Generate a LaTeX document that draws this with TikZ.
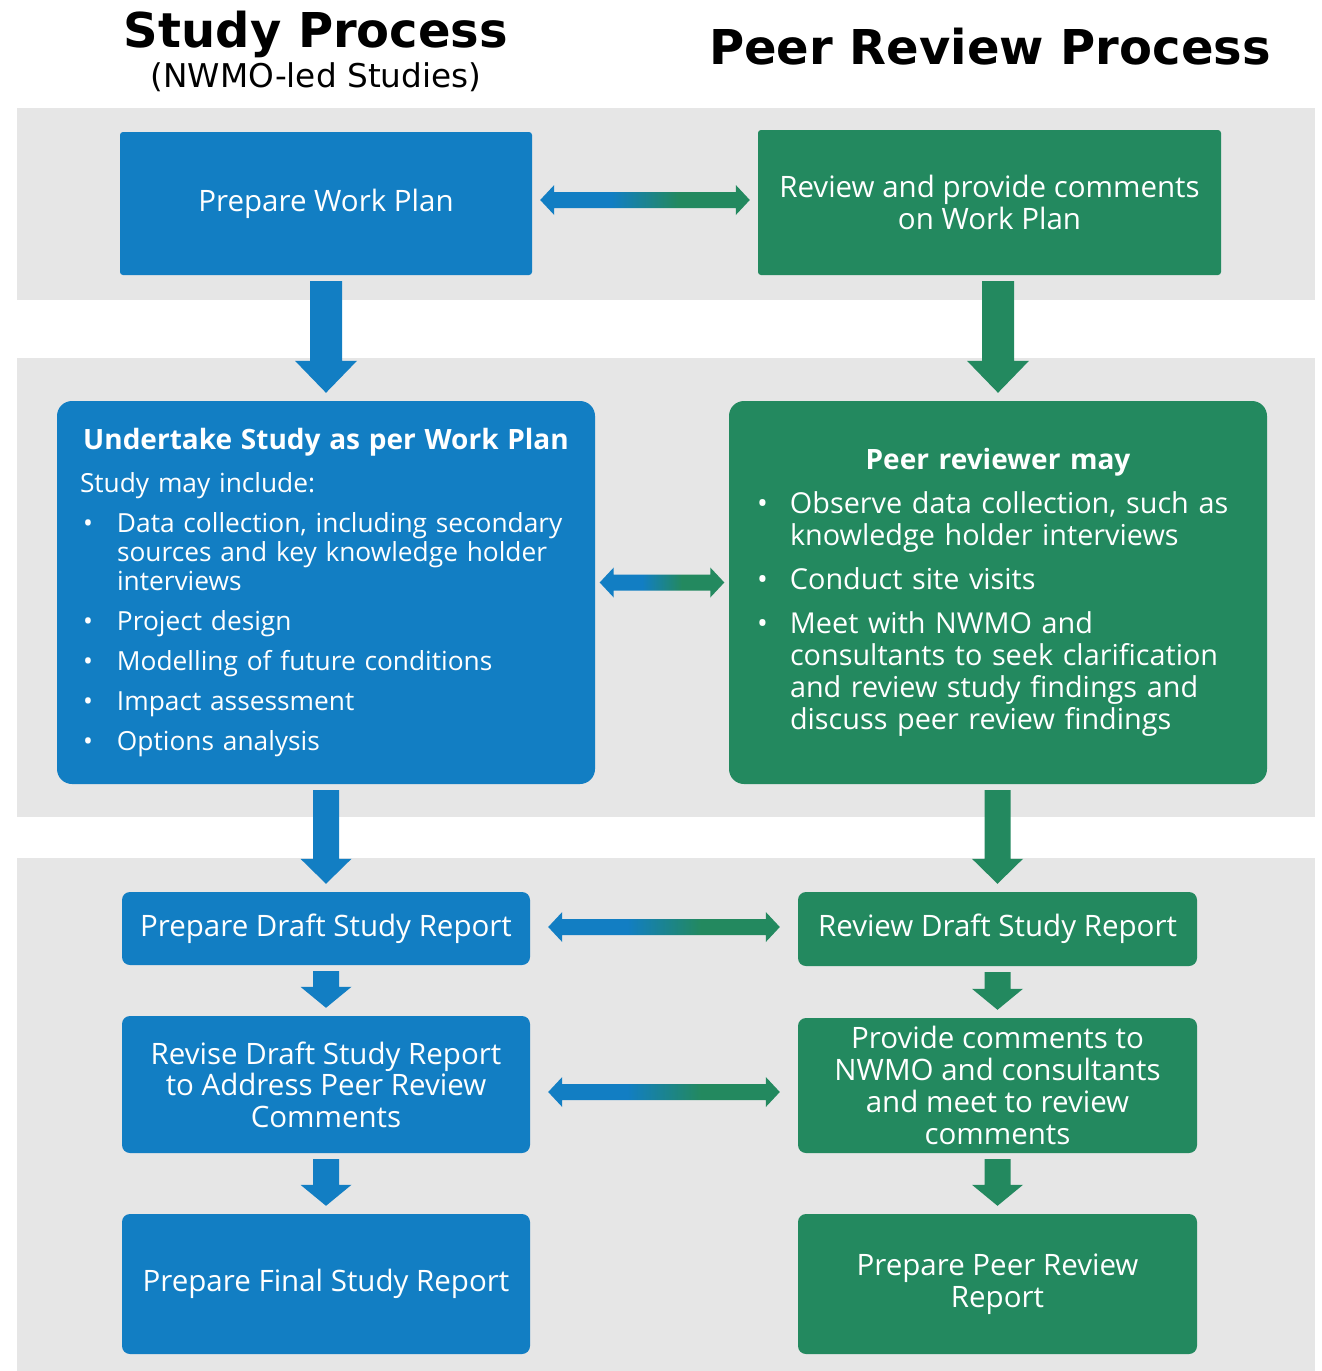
\documentclass[tikz,border=0pt]{standalone}
\usepackage{fontspec}
\setmainfont{Open Sans}
\newfontfamily\headfont{DejaVu Sans}
\usetikzlibrary{positioning, calc}

\definecolor{nwblue}{HTML}{127EC3}
\definecolor{nwgreen}{HTML}{23895F}
\definecolor{bandgray}{HTML}{E6E6E6}
\pgfdeclarehorizontalshading{bluegreen}{100bp}{color(0bp)=(nwblue); color(42bp)=(nwblue); color(58bp)=(nwgreen); color(100bp)=(nwgreen)}

\newlength{\bulletindent}
\newlength{\bulletshift}
\newlength{\bulletgap}
\newcommand{\bitem}[1]{\par\vspace{\bulletgap}\hangindent=\bulletindent\hangafter=1\noindent\makebox[\bulletindent][l]{\hspace{\bulletshift}\textbullet}#1}

% block arrow down: from, to, colour, shaft, head (half widths), head length
\newcommand{\flowdown}[6]{%
  \fill[#3] let \p1=($(#2.north |- #1.south)+(0,6)$), \p2=($(#2.north)+(0,-8)$) in
    (\x1-#4pt,\y1) -- (\x1+#4pt,\y1) -- (\x1+#4pt,\y2+#6pt) -- (\x1+#5pt,\y2+#6pt)
    -- (\x1,\y2) -- (\x1-#5pt,\y2+#6pt) -- (\x1-#4pt,\y2+#6pt) -- cycle;}
% two-headed block arrow: left node, right node, gap, y shift
\newcommand{\flowlink}[4]{%
  \shade[shading=bluegreen] let \p1=($(#1.east)+(#3,#4)$), \p2=($(#2.west |- #1.east)+(-#3,#4)$) in
    (\x1,\y1) -- (\x1+14pt,\y1+15pt) -- (\x1+14pt,\y1+8pt) -- (\x2-14pt,\y1+8pt)
    -- (\x2-14pt,\y1+15pt) -- (\x2,\y1) -- (\x2-14pt,\y1-15pt) -- (\x2-14pt,\y1-8pt)
    -- (\x1+14pt,\y1-8pt) -- (\x1+14pt,\y1-15pt) -- cycle;}

\begin{document}
\begin{tikzpicture}[x=1pt, y=-1pt,
    studybox/.style={fill=nwblue, text=white, align=center, inner sep=0pt, rounded corners=#1},
    studybox/.default=8pt,
    peerbox/.style={fill=nwgreen, text=white, align=center, inner sep=0pt, rounded corners=#1},
    peerbox/.default=8pt,
    boxtext/.style={font=\fontsize{29.5}{31.5}\selectfont},
    headline/.style={font=\headfont\bfseries\fontsize{48}{52}\selectfont, anchor=base}]
    \useasboundingbox (0,0) rectangle (1322,1371);

    % grey bands
    \fill[bandgray] (17,108) rectangle (1315,300);
    \fill[bandgray] (17,358) rectangle (1315,817);
    \fill[bandgray] (17,858) rectangle (1315,1371);

    % headings
    \node[headline] (studyhead) at (316,47) {Study Process};
    \node[font=\headfont\fontsize{32.7}{36}\selectfont, anchor=base] (studysub) at (316,87) {(NWMO-led Studies)};
    \node[headline] (peerhead) at (990,64) {Peer Review Process};

    % study process
    \node[studybox=3pt, boxtext, minimum width=412pt, minimum height=143pt] (workplan) at (326,203.5) {Prepare Work Plan};
    \node[studybox=15pt, minimum width=538pt, minimum height=383pt, inner xsep=23pt, text width=492pt, align=left,
          font=\fontsize{26.3}{29}\selectfont] (undertake) at (326,592.5) {%
        {\centering\bfseries\fontsize{28}{29}\selectfont Undertake Study as per Work Plan\par}
        \vspace{14pt}
        \setlength{\bulletindent}{37pt}\setlength{\bulletshift}{3pt}\setlength{\bulletgap}{11pt}%
        \noindent Study may include:
        \bitem{Data collection, including secondary\newline sources and key knowledge holder\newline interviews}
        \bitem{Project design}
        \bitem{Modelling of future conditions}
        \bitem{Impact assessment}
        \bitem{Options analysis}\par};
    \node[studybox, boxtext, minimum width=408pt, minimum height=73pt] (draft) at (326,928.5) {Prepare Draft Study Report};
    \node[studybox, boxtext, minimum width=408pt, minimum height=137pt] (revise) at (326,1084.5) {Revise Draft Study Report\\ to Address Peer Review\\ Comments};
    \node[studybox, boxtext, minimum width=408pt, minimum height=140pt] (final) at (326,1284) {Prepare Final Study Report};

    % peer review process
    \node[peerbox=3pt, boxtext, minimum width=463pt, minimum height=145pt] (reviewplan) at (989.5,202.5) {Review and provide comments\\ on Work Plan};
    \node[peerbox=15pt, minimum width=538pt, minimum height=383pt, inner xsep=31pt, text width=476pt, align=left,
          font=\fontsize{28.8}{32}\selectfont] (reviewer) at (998,592.5) {%
        {\centering\bfseries\fontsize{28}{32}\selectfont Peer reviewer may\par}
        \setlength{\bulletindent}{30pt}\setlength{\bulletshift}{-3pt}\setlength{\bulletgap}{12pt}%
        \bitem{Observe data collection, such as\newline knowledge holder interviews}
        \bitem{Conduct site visits}
        \bitem{Meet with NWMO and\newline consultants to seek clarification\newline and review study findings and\newline discuss peer review findings}\par};
    \node[peerbox, boxtext, minimum width=399pt, minimum height=74pt] (reviewdraft) at (997.5,929) {Review Draft Study Report};
    \node[peerbox, boxtext, font=\fontsize{29.5}{32}\selectfont, minimum width=399pt, minimum height=135pt] (comments) at (997.5,1085.5) {Provide comments to\\ NWMO and consultants\\ and meet to review\\ comments};
    \node[peerbox, boxtext, font=\fontsize{29.5}{32}\selectfont, minimum width=399pt, minimum height=140pt] (peerreport) at (997.5,1284) {Prepare Peer Review\\ Report};

    % arrows down
    \flowdown{workplan}{undertake}{nwblue}{16}{31}{32}
    \flowdown{reviewplan}{reviewer}{nwgreen}{16}{31}{32}
    \flowdown{undertake}{draft}{nwblue}{13}{25.5}{25}
    \flowdown{reviewer}{reviewdraft}{nwgreen}{13}{25.5}{25}
    \flowdown{draft}{revise}{nwblue}{13}{25.5}{21}
    \flowdown{reviewdraft}{comments}{nwgreen}{13}{25.5}{21}
    \flowdown{revise}{final}{nwblue}{13}{25.5}{21}
    \flowdown{comments}{peerreport}{nwgreen}{13}{25.5}{21}

    % arrows between the two processes
    \flowlink{workplan}{reviewplan}{8}{-3.5}
    \flowlink{undertake}{reviewer}{4.5}{-10}
    \flowlink{draft}{reviewdraft}{18}{-1.5}
    \flowlink{revise}{comments}{18}{7.5}
\end{tikzpicture}
\end{document}
